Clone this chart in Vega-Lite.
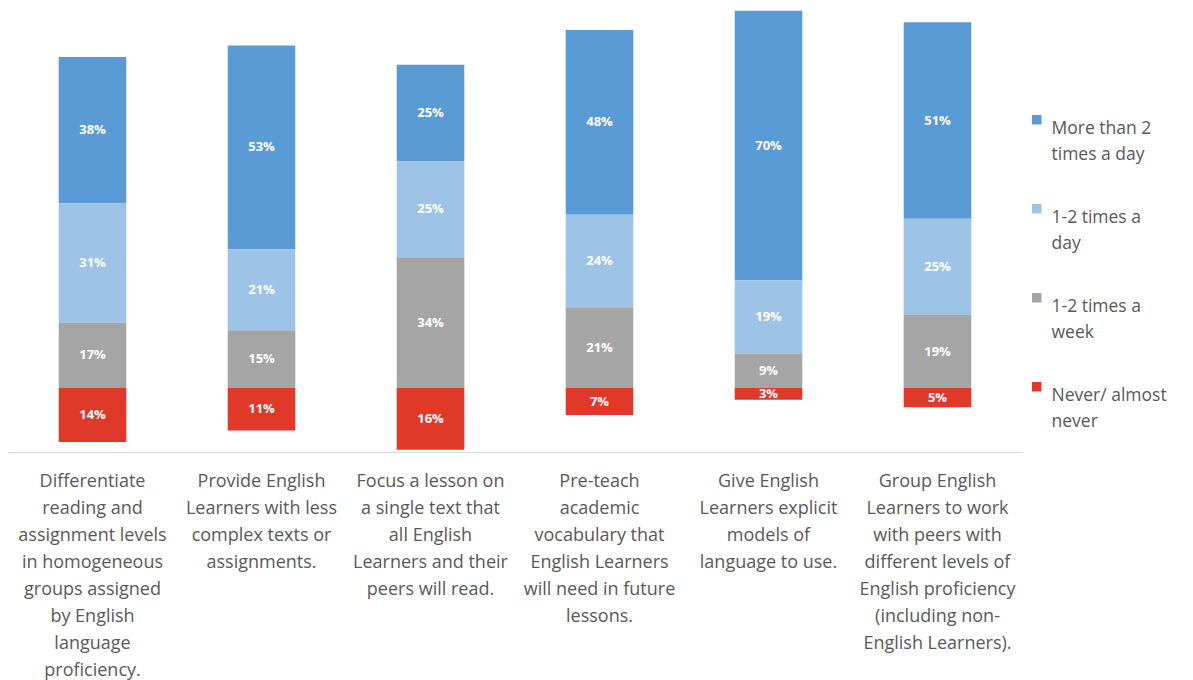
{
  "$schema": "https://vega.github.io/schema/vega-lite/v6.json",
  "autosize": {"type": "none"},
  "padding": {"left": 8, "top": 0, "right": 171, "bottom": 228},
  "width": 1014,
  "height": 452,
  "background": "white",
  "config": {"view": {"stroke": null}, "font": "Open Sans", "style": {"guide-label": {"lineHeight": 26}}},
  "data": {"values": [
    {"task": "Differentiate\nreading and\nassignment levels\nin homogeneous\ngroups assigned\nby English\nlanguage\nproficiency.", "freq": "More than 2 times a day", "pct": 38, "ord": 3},
    {"task": "Differentiate\nreading and\nassignment levels\nin homogeneous\ngroups assigned\nby English\nlanguage\nproficiency.", "freq": "1-2 times a day", "pct": 31, "ord": 2},
    {"task": "Differentiate\nreading and\nassignment levels\nin homogeneous\ngroups assigned\nby English\nlanguage\nproficiency.", "freq": "1-2 times a week", "pct": 17, "ord": 1},
    {"task": "Differentiate\nreading and\nassignment levels\nin homogeneous\ngroups assigned\nby English\nlanguage\nproficiency.", "freq": "Never/ almost never", "pct": 14, "ord": 0},
    {"task": "Provide English\nLearners with less\ncomplex texts or\nassignments.", "freq": "More than 2 times a day", "pct": 53, "ord": 3},
    {"task": "Provide English\nLearners with less\ncomplex texts or\nassignments.", "freq": "1-2 times a day", "pct": 21, "ord": 2},
    {"task": "Provide English\nLearners with less\ncomplex texts or\nassignments.", "freq": "1-2 times a week", "pct": 15, "ord": 1},
    {"task": "Provide English\nLearners with less\ncomplex texts or\nassignments.", "freq": "Never/ almost never", "pct": 11, "ord": 0},
    {"task": "Focus a lesson on\na single text that\nall English\nLearners and their\npeers will read.", "freq": "More than 2 times a day", "pct": 25, "ord": 3},
    {"task": "Focus a lesson on\na single text that\nall English\nLearners and their\npeers will read.", "freq": "1-2 times a day", "pct": 25, "ord": 2},
    {"task": "Focus a lesson on\na single text that\nall English\nLearners and their\npeers will read.", "freq": "1-2 times a week", "pct": 34, "ord": 1},
    {"task": "Focus a lesson on\na single text that\nall English\nLearners and their\npeers will read.", "freq": "Never/ almost never", "pct": 16, "ord": 0},
    {"task": "Pre-teach\nacademic\nvocabulary that\nEnglish Learners\nwill need in future\nlessons.", "freq": "More than 2 times a day", "pct": 48, "ord": 3},
    {"task": "Pre-teach\nacademic\nvocabulary that\nEnglish Learners\nwill need in future\nlessons.", "freq": "1-2 times a day", "pct": 24, "ord": 2},
    {"task": "Pre-teach\nacademic\nvocabulary that\nEnglish Learners\nwill need in future\nlessons.", "freq": "1-2 times a week", "pct": 21, "ord": 1},
    {"task": "Pre-teach\nacademic\nvocabulary that\nEnglish Learners\nwill need in future\nlessons.", "freq": "Never/ almost never", "pct": 7, "ord": 0},
    {"task": "Give English\nLearners explicit\nmodels of\nlanguage to use.", "freq": "More than 2 times a day", "pct": 70, "ord": 3},
    {"task": "Give English\nLearners explicit\nmodels of\nlanguage to use.", "freq": "1-2 times a day", "pct": 19, "ord": 2},
    {"task": "Give English\nLearners explicit\nmodels of\nlanguage to use.", "freq": "1-2 times a week", "pct": 9, "ord": 1},
    {"task": "Give English\nLearners explicit\nmodels of\nlanguage to use.", "freq": "Never/ almost never", "pct": 3, "ord": 0},
    {"task": "Group English\nLearners to work\nwith peers with\ndifferent levels of\nEnglish proficiency\n(including non-\nEnglish Learners).", "freq": "More than 2 times a day", "pct": 51, "ord": 3},
    {"task": "Group English\nLearners to work\nwith peers with\ndifferent levels of\nEnglish proficiency\n(including non-\nEnglish Learners).", "freq": "1-2 times a day", "pct": 25, "ord": 2},
    {"task": "Group English\nLearners to work\nwith peers with\ndifferent levels of\nEnglish proficiency\n(including non-\nEnglish Learners).", "freq": "1-2 times a week", "pct": 19, "ord": 1},
    {"task": "Group English\nLearners to work\nwith peers with\ndifferent levels of\nEnglish proficiency\n(including non-\nEnglish Learners).", "freq": "Never/ almost never", "pct": 5, "ord": 0}
  ]},
  "transform": [
    {"calculate": "datum.freq === 'Never/ almost never' ? -datum.pct : datum.pct", "as": "signed"},
    {"stack": "signed", "groupby": ["task"], "sort": [{"field": "ord", "order": "ascending"}], "as": ["y0", "y1"], "offset": "zero"},
    {"calculate": "(datum.y0 + datum.y1) / 2", "as": "ymid"},
    {"calculate": "datum.pct + '%'", "as": "lbl"}
  ],
  "encoding": {
    "x": {
      "field": "task", "type": "nominal", "sort": null,
      "scale": {"paddingInner": 0.6, "paddingOuter": 0.3},
      "axis": {
        "title": null, "orient": "bottom", "ticks": false, "grid": false,
        "domainColor": "#d9d9d9", "domainWidth": 1,
        "labelAngle": 0, "labelAlign": "center", "labelBaseline": "top",
        "labelExpr": "split(datum.value, '\\n')",
        "labelFont": "Open Sans", "labelFontSize": 18, "labelColor": "#595959",
        "labelLineHeight": 27, "labelPadding": 20, "labelLimit": 300
      }
    }
  },
  "layer": [
    {
      "mark": {"type": "bar"},
      "encoding": {
        "y": {"field": "y0", "type": "quantitative", "scale": {"domain": [-16.6, 100.8], "nice": false, "zero": false}, "axis": null},
        "y2": {"field": "y1"},
        "color": {
          "field": "freq", "type": "nominal",
          "scale": {
            "domain": ["More than 2 times a day", "1-2 times a day", "1-2 times a week", "Never/ almost never"],
            "range": ["#5B9BD5", "#9DC3E6", "#A5A5A5", "#E0392A"]
          },
          "legend": {
            "title": null, "orient": "none", "legendX": 1020, "legendY": 111,
            "symbolType": "square", "symbolSize": 90, "symbolStrokeWidth": 0,
            "labelFont": "Open Sans", "labelFontSize": 17.5, "labelColor": "#595959",
            "labelBaseline": "top", "labelOffset": 6,
            "rowPadding": 36, "labelLimit": 200,
            "encode": {"labels": {"update": {"lineHeight": {"value": 26}}}},
            "labelExpr": "datum.label === 'More than 2 times a day' ? ['More than 2', 'times a day'] : datum.label === '1-2 times a day' ? ['1-2 times a', 'day'] : datum.label === '1-2 times a week' ? ['1-2 times a', 'week'] : ['Never/ almost', 'never']"
          }
        }
      }
    },
    {
      "mark": {"type": "text", "color": "white", "font": "Open Sans", "fontSize": 13, "fontWeight": "bold", "baseline": "middle", "align": "center"},
      "encoding": {
        "y": {"field": "ymid", "type": "quantitative"},
        "text": {"field": "lbl", "type": "nominal"}
      }
    }
  ]
}
